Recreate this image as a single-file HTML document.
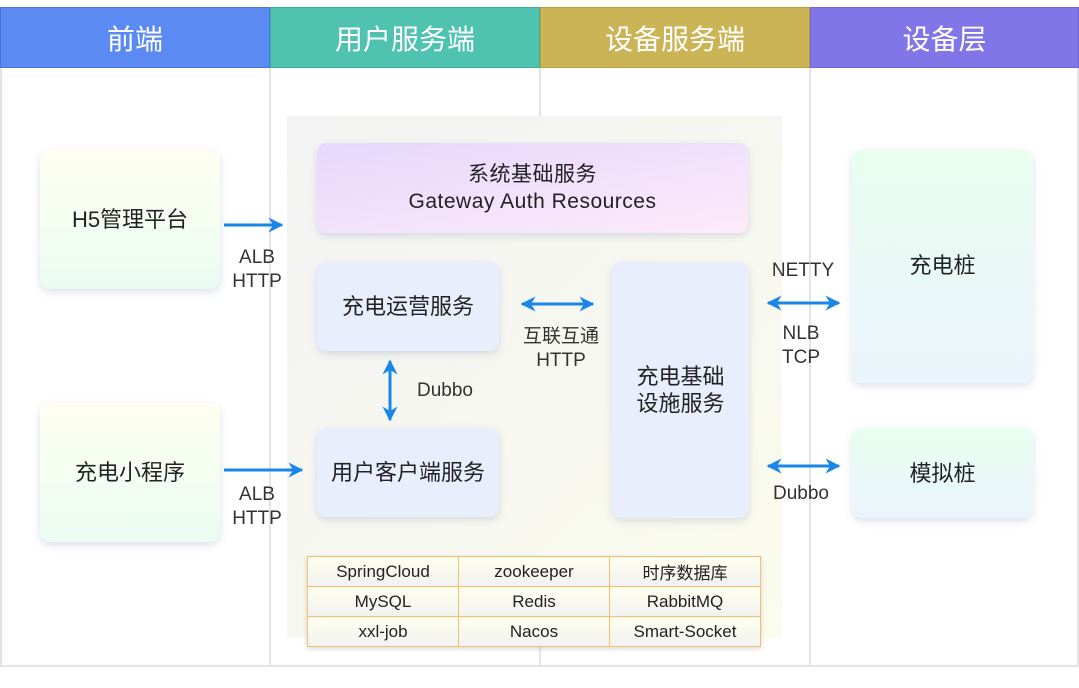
<!DOCTYPE html>
<html><head><meta charset="utf-8"><style>
body{margin:0;width:1079px;height:688px;background:#fff;position:relative;overflow:hidden;font-family:"Liberation Sans","Noto Sans CJK SC",sans-serif;color:#222}
.a{position:absolute;box-sizing:border-box}
.h{top:7px;height:61px;color:#fff;font-size:28px;display:flex;align-items:center;justify-content:center}
.vl{top:68px;width:2px;height:598px;background:#e4e4e4}
.box{border-radius:10px;box-shadow:0 3px 8px rgba(120,130,170,.25);display:flex;align-items:center;justify-content:center;text-align:center;font-size:22px;line-height:27px}
.lb{font-size:19px;color:#333;text-align:center;line-height:24px;transform:translateX(-50%)}
table{border-collapse:collapse;position:absolute;left:307px;top:556px;width:454px;box-shadow:0 2px 5px rgba(0,0,0,.15)}
td{border:1.5px solid #f5c06a;height:30px;box-sizing:border-box;text-align:center;font-size:17px;background:linear-gradient(#fffff0,#f1f1f1);width:33.3%;padding:0}
</style></head><body>
<div class="a h" style="left:0;width:270px;background:#5b8af2;border:1px solid #4a74d8">前端</div>
<div class="a h" style="left:270px;width:270px;background:#4fc2b0;border:1px solid #3eae9c">用户服务端</div>
<div class="a h" style="left:540px;width:270px;background:#cab455;border:1px solid #b8a040">设备服务端</div>
<div class="a h" style="left:810px;width:269px;background:#8176e8;border:1px solid #7066d8">设备层</div>
<div class="a vl" style="left:0"></div>
<div class="a vl" style="left:269px"></div>
<div class="a vl" style="left:539px"></div>
<div class="a vl" style="left:809px"></div>
<div class="a vl" style="left:1077px"></div>
<div class="a" style="left:0;top:665px;width:1079px;height:2px;background:#e4e4e4"></div>
<div class="a" style="left:287px;top:116px;width:495px;height:522px;background:linear-gradient(135deg,#f3f3f3,#f7f8ef 60%,#fbfbee)"></div>

<div class="a box" style="left:40px;top:150px;width:180px;height:139px;background:linear-gradient(#fffff0,#eafcf2)">H5管理平台</div>
<div class="a box" style="left:40px;top:403px;width:180px;height:139px;background:linear-gradient(#fffff0,#eafcf2)">充电小程序</div>
<div class="a box" style="left:317px;top:143px;width:431px;height:90px;background:linear-gradient(170deg,#e6d8fc,#fdeafa);font-size:21px;letter-spacing:.5px">系统基础服务<br>Gateway Auth Resources</div>
<div class="a box" style="left:317px;top:262px;width:182px;height:89px;background:#e9eefc">充电运营服务</div>
<div class="a box" style="left:317px;top:428px;width:182px;height:89px;background:#e9eefc">用户客户端服务</div>
<div class="a box" style="left:612px;top:262px;width:137px;height:256px;background:#e9eefc">充电基础<br>设施服务</div>
<div class="a box" style="left:852px;top:150px;width:181px;height:233px;background:linear-gradient(#e8fff0,#eaf4fc)"><span style="position:absolute;top:102px;left:0;right:0">充电桩</span></div>
<div class="a box" style="left:852px;top:428px;width:181px;height:90px;background:linear-gradient(#e8fff0,#eaf4fc)">模拟桩</div>

<svg class="a" style="left:0;top:0" width="1079" height="688">
<defs><marker id="m" viewBox="0 0 10 10" refX="9" refY="5" markerWidth="5" markerHeight="5" orient="auto-start-reverse"><path d="M0,0L10,5L0,10L3,5z" fill="#1a86e8"/></marker></defs>
<g stroke="#1a86e8" stroke-width="3" fill="none">
<line x1="224" y1="225" x2="282" y2="225" marker-end="url(#m)"/>
<line x1="224" y1="470" x2="302" y2="470" marker-end="url(#m)"/>
<line x1="522" y1="304" x2="593" y2="304" marker-start="url(#m)" marker-end="url(#m)"/>
<line x1="390" y1="361" x2="390" y2="420" marker-start="url(#m)" marker-end="url(#m)"/>
<line x1="768" y1="303" x2="839" y2="303" marker-start="url(#m)" marker-end="url(#m)"/>
<line x1="768" y1="466" x2="839" y2="466" marker-start="url(#m)" marker-end="url(#m)"/>
</g></svg>
<div class="a lb" style="left:257px;top:246px">ALB<br>HTTP</div>
<div class="a lb" style="left:257px;top:483px">ALB<br>HTTP</div>
<div class="a lb" style="left:561px;top:325px">互联互通<br>HTTP</div>
<div class="a lb" style="left:445px;top:379px">Dubbo</div>
<div class="a lb" style="left:803px;top:259px">NETTY</div>
<div class="a lb" style="left:801px;top:322px">NLB<br>TCP</div>
<div class="a lb" style="left:801px;top:482px">Dubbo</div>

<table>
<tr><td>SpringCloud</td><td>zookeeper</td><td>时序数据库</td></tr>
<tr><td>MySQL</td><td>Redis</td><td>RabbitMQ</td></tr>
<tr><td>xxl-job</td><td>Nacos</td><td>Smart-Socket</td></tr>
</table>
</body></html>
